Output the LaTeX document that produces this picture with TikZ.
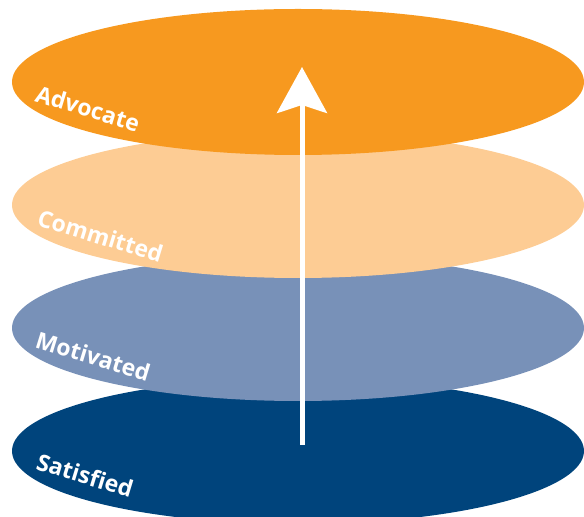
\documentclass[tikz,border=0pt]{standalone}
\usepackage{fontspec}
\setsansfont{Open Sans}
\usepackage{tikz}
\usetikzlibrary{arrows.meta,shapes.geometric,positioning,calc}
\usepackage{xcolor}
\definecolor{lyorange}{RGB}{247,153,31}
\definecolor{lylightorange}{RGB}{253,204,148}
\definecolor{lygreyblue}{RGB}{120,145,184}
\definecolor{lydarkblue}{RGB}{0,68,124}
\tikzstyle{layer} = [ellipse, minimum width=572pt, minimum height=146pt, inner sep=0pt, draw=none]
\tikzstyle{tag} = [anchor=base west, rotate=-17, inner sep=0pt, text=white, font=\sffamily\bfseries\fontsize{23}{26}\selectfont]
\tikzstyle{arrow} = [line width=5pt, white, -{Stealth[length=46pt, width=50pt, inset=8pt]}]

\begin{document}
\begin{tikzpicture}[x=1pt, y=1pt, node distance=123pt]
\useasboundingbox (0,0) rectangle (584,517);
\node (satisfied) [layer, fill=lydarkblue] at (298,66) {};
\node (motivated) [layer, fill=lygreyblue, above of=satisfied] {};
\node (committed) [layer, fill=lylightorange, above of=motivated] {};
\node (advocate) [layer, fill=lyorange, above of=committed] {};
% level labels
\node (satisfiedtag) [tag] at ($(satisfied.center)+(-263,-18)$) {Satisfied};
\node (motivatedtag) [tag] at ($(motivated.center)+(-264,-19)$) {Motivated};
\node (committedtag) [tag] at ($(committed.center)+(-262,-20)$) {Committed};
\node (advocatetag) [tag] at ($(advocate.center)+(-264,-19)$) {Advocate};
% rising arrow
\coordinate (start) at (302,72);
\coordinate (finish) at (302,450);
\draw[arrow] (start) -- (finish);
\end{tikzpicture}
\end{document}
